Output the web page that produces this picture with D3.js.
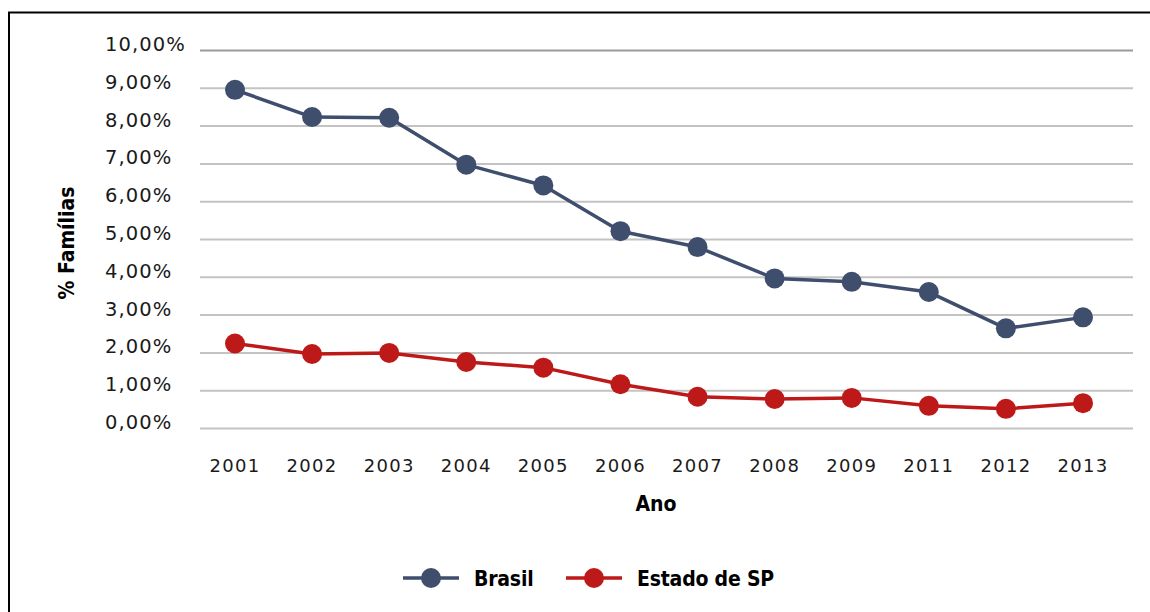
<!DOCTYPE html>
<html><head><meta charset="utf-8">
<script src="https://cdn.jsdelivr.net/npm/d3@7"></script>
<style>
html,body{margin:0;padding:0;background:#fff;}
svg{display:block;}
</style></head>
<body>
<svg id="chart" width="1150" height="612"></svg>
<script>
const years = ["2001","2002","2003","2004","2005","2006","2007","2008","2009","2011","2012","2013"];
const brasil = [8.96, 8.24, 8.22, 6.98, 6.43, 5.22, 4.80, 3.97, 3.88, 3.61, 2.65, 2.94];
const estadoSP = [2.25, 1.97, 2.00, 1.76, 1.61, 1.17, 0.84, 0.78, 0.81, 0.60, 0.52, 0.67];
const yTicks = [0,1,2,3,4,5,6,7,8,9,10];
const seriesNames = ["Brasil", "Estado de SP"];
const seriesColors = ["#3f4e6d", "#be1919"];

const svg = d3.select("#chart");
const labelFont = "'DejaVu Sans', Verdana, sans-serif";
const boldFont = "'DejaVu Sans Condensed', 'Liberation Sans Narrow', sans-serif";

// frame
svg.append("rect").attr("x",9).attr("y",12.5).attr("width",1200).attr("height",700)
  .attr("fill","none").attr("stroke","#000").attr("stroke-width",2);

const x = d3.scalePoint().domain(years).range([235,1083]);
const y = d3.scaleLinear().domain([0,10]).range([428.5,50.5]);

// gridlines
svg.append("g").selectAll("line").data(yTicks).join("line")
  .attr("x1",200).attr("x2",1133)
  .attr("y1",d=>y(d)).attr("y2",d=>y(d))
  .attr("stroke",d=>d===10?"#9a9a9a":"#c3c3c3").attr("stroke-width",2);

// y labels
const fmt = d => d.toFixed(2).replace(".",",") + "%";
svg.append("g").selectAll("text").data(yTicks).join("text")
  .attr("x",105).attr("y",d=>y(d)+0.5)
  .attr("font-family",labelFont).attr("font-size",19.5).attr("letter-spacing",1.1)
  .attr("fill","#1a1a1a").text(fmt);

// x labels
svg.append("g").selectAll("text").data(years).join("text")
  .attr("x",d=>x(d)).attr("y",471.5).attr("text-anchor","middle")
  .attr("font-family",labelFont).attr("font-size",18).attr("letter-spacing",1.3)
  .attr("fill","#1a1a1a").text(d=>d);

// axis titles
svg.append("text").attr("x",656).attr("y",511).attr("text-anchor","middle")
  .attr("font-family",boldFont).attr("font-weight","bold").attr("font-size",21)
  .attr("fill","#000").text("Ano");
svg.append("text").attr("transform","translate(74,243) rotate(-90)").attr("text-anchor","middle")
  .attr("font-family",boldFont).attr("font-weight","bold").attr("font-size",21)
  .attr("fill","#000").text("% Famílias");

// series
const line = d3.line().x((d,i)=>x(years[i])).y(d=>y(d));
[brasil, estadoSP].forEach((data,si)=>{
  const g = svg.append("g");
  g.append("path").datum(data).attr("d",line).attr("fill","none")
    .attr("stroke",seriesColors[si]).attr("stroke-width",3.5).attr("stroke-linejoin","round");
  g.selectAll("circle").data(data).join("circle")
    .attr("cx",(d,i)=>x(years[i])).attr("cy",d=>y(d)).attr("r",10)
    .attr("fill",seriesColors[si]);
});

// legend
const legendX = [403, 566];
const lg = svg.append("g").selectAll("g").data(seriesNames).join("g")
  .attr("transform",(d,i)=>`translate(${legendX[i]},578)`);
lg.append("line").attr("x1",0).attr("x2",56).attr("y1",0).attr("y2",0)
  .attr("stroke",(d,i)=>seriesColors[i]).attr("stroke-width",3.5);
lg.append("circle").attr("cx",28).attr("cy",0).attr("r",10).attr("fill",(d,i)=>seriesColors[i]);
lg.append("text").attr("x",71).attr("y",8)
  .attr("font-family",boldFont).attr("font-weight","bold").attr("font-size",21)
  .attr("letter-spacing",-0.2)
  .attr("fill","#000").text(d=>d);
</script>
</body></html>
